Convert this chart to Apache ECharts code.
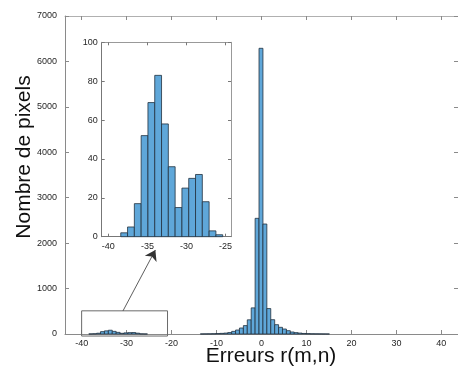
<!DOCTYPE html>
<html>
<head>
<meta charset="utf-8">
<script src="https://cdn.jsdelivr.net/npm/echarts@6/dist/echarts.min.js"></script>
<style>
  html, body { margin: 0; padding: 0; background: #fff; }
  #chart { width: 458px; height: 370px; }
</style>
</head>
<body>
<div id="chart"></div>
<script>
// Histogram of errors r(m,n); bin width (~0.87)
const BIN_W = 0.87;

// cluster around -34 (also shown in the inset)
const tailStart = -38.41;
const tailCounts = [2, 5, 17, 52, 69, 83, 58, 36, 15, 25, 30, 32, 18, 3, 1];

// main peak around 0
const coreStart = -13.6;
const coreCounts = [2, 3, 4, 6, 10, 14, 20, 32, 58, 88, 132, 185, 312, 575, 2546,
  6289, 2421, 560, 315, 205, 147, 110, 73, 44, 30, 20, 12, 8, 5, 4, 3, 2, 1];

const mainTicksX = [-40, -30, -20, -10, 0, 10, 20, 30, 40];
const insetTicksX = [-40, -35, -30, -25];

// zoom rectangle and arrow (main axes data units)
const zoomBox = [-40, -20.9, -45, 510];
const arrowFrom = [-30.8, 510];
const arrowTo = [-23.6, 1850];

const FONT = 'Liberation Sans, Arial, Helvetica, sans-serif';
const TEXT = '#262626';
const BAR = '#5fa7d9';
const EDGE = '#22313f';

const toBins = (start, counts) =>
  counts.map((c, i) => [start + i * BIN_W, start + (i + 1) * BIN_W, c]);

const tailBins = toBins(tailStart, tailCounts);
const coreBins = toBins(coreStart, coreCounts);

const renderBin = (params, api) => {
  const p0 = api.coord([api.value(0), api.value(2)]);
  const p1 = api.coord([api.value(1), 0]);
  return {
    type: 'rect',
    shape: { x: p0[0], y: p0[1], width: p1[0] - p0[0], height: p1[1] - p0[1] },
    style: { fill: BAR, stroke: EDGE, lineWidth: 0.8 },
  };
};

const axisLine = (color) => ({ show: true, onZero: false, lineStyle: { color: color, width: 1 } });
const plain = (v) => String(v);

const chart = echarts.init(document.getElementById('chart'), null, { renderer: 'canvas' });

const option = {
  backgroundColor: '#fff',
  animation: false,
  grid: [
    { left: 65, top: 16, width: 398.5, height: 318 },
    { left: 101.7, top: 42.3, width: 129.3, height: 194.4, show: true, backgroundColor: '#fff', borderWidth: 0 },
  ],
  xAxis: [
    {
      type: 'value', gridIndex: 0, position: 'bottom', min: -43.7, max: 43.7,
      axisLine: axisLine('#8a8a8a'),
      axisTick: { show: true, inside: true, length: 4, customValues: mainTicksX, lineStyle: { color: '#8a8a8a' } },
      axisLabel: { customValues: mainTicksX, formatter: plain, color: TEXT, fontSize: 9, fontFamily: FONT, margin: 5 },
      splitLine: { show: false },
    },
    {
      type: 'value', gridIndex: 0, position: 'top', min: -43.7, max: 43.7,
      axisLine: axisLine('#b0b0b0'),
      axisTick: { show: true, inside: true, length: 4, customValues: mainTicksX, lineStyle: { color: '#8a8a8a' } },
      axisLabel: { show: false },
      splitLine: { show: false },
    },
    {
      type: 'value', gridIndex: 1, position: 'bottom', min: -40.85, max: -24.3,
      axisLine: axisLine('#777'),
      axisTick: { show: true, inside: true, length: 3, customValues: insetTicksX, lineStyle: { color: '#777' } },
      axisLabel: { customValues: insetTicksX, formatter: plain, color: TEXT, fontSize: 9, fontFamily: FONT, margin: 5 },
      splitLine: { show: false },
    },
    {
      type: 'value', gridIndex: 1, position: 'top', min: -40.85, max: -24.3,
      axisLine: axisLine('#999'),
      axisTick: { show: true, inside: true, length: 3, customValues: insetTicksX, lineStyle: { color: '#777' } },
      axisLabel: { show: false },
      splitLine: { show: false },
    },
  ],
  yAxis: [
    {
      type: 'value', gridIndex: 0, position: 'left', min: 0, max: 7000, interval: 1000,
      axisLine: axisLine('#8a8a8a'),
      axisTick: { show: true, inside: true, length: 4, lineStyle: { color: '#8a8a8a' } },
      axisLabel: { formatter: plain, color: TEXT, fontSize: 9, fontFamily: FONT, margin: 8 },
      splitLine: { show: false },
    },
    {
      type: 'value', gridIndex: 0, position: 'right', min: 0, max: 7000, interval: 1000,
      axisLine: axisLine('#8a8a8a'),
      axisTick: { show: true, inside: true, length: 4 },
      axisLabel: { show: false },
      splitLine: { show: false },
    },
    {
      type: 'value', gridIndex: 1, position: 'left', min: 0, max: 100, interval: 20,
      axisLine: axisLine('#777'),
      axisTick: { show: true, inside: true, length: 3, lineStyle: { color: '#777' } },
      axisLabel: { formatter: plain, color: TEXT, fontSize: 9, fontFamily: FONT, margin: 4 },
      splitLine: { show: false },
    },
    {
      type: 'value', gridIndex: 1, position: 'right', min: 0, max: 100, interval: 20,
      axisLine: axisLine('#999'),
      axisTick: { show: true, inside: true, length: 3, lineStyle: { color: '#777' } },
      axisLabel: { show: false },
      splitLine: { show: false },
    },
  ],
  series: [
    {
      type: 'custom', name: 'main', xAxisIndex: 0, yAxisIndex: 0,
      renderItem: renderBin, encode: { x: [0, 1], y: 2 },
      data: tailBins.concat(coreBins),
    },
    {
      type: 'custom', name: 'inset', xAxisIndex: 2, yAxisIndex: 2,
      renderItem: renderBin, encode: { x: [0, 1], y: 2 },
      data: tailBins,
    },
    {
      // zoom rectangle
      type: 'custom', name: 'zoomBox', xAxisIndex: 0, yAxisIndex: 0, silent: true,
      renderItem: (params, api) => {
        const a = api.coord([api.value(0), api.value(3)]);
        const b = api.coord([api.value(1), api.value(2)]);
        return {
          type: 'rect',
          shape: { x: a[0], y: a[1], width: b[0] - a[0], height: b[1] - a[1] },
          style: { fill: 'none', stroke: '#6a6a6a', lineWidth: 1 },
        };
      },
      data: [zoomBox],
    },
    {
      type: 'lines', coordinateSystem: 'cartesian2d', xAxisIndex: 0, yAxisIndex: 0,
      silent: true, symbol: ['none', 'arrow'], symbolSize: [7, 10],
      lineStyle: { color: '#333', width: 0.8, opacity: 1 },
      data: [{ coords: [arrowFrom, arrowTo] }],
    },
  ],
  graphic: [
    {
      type: 'text', x: 24, y: 157, rotation: Math.PI / 2,
      style: { text: 'Nombre de pixels', fill: '#111', font: '21px ' + FONT, textAlign: 'center', textVerticalAlign: 'middle' },
    },
    {
      type: 'text', x: 271, y: 356,
      style: { text: 'Erreurs r(m,n)', fill: '#111', font: '21px ' + FONT, textAlign: 'center', textVerticalAlign: 'middle' },
    },
  ],
};

chart.setOption(option);
</script>
</body>
</html>
